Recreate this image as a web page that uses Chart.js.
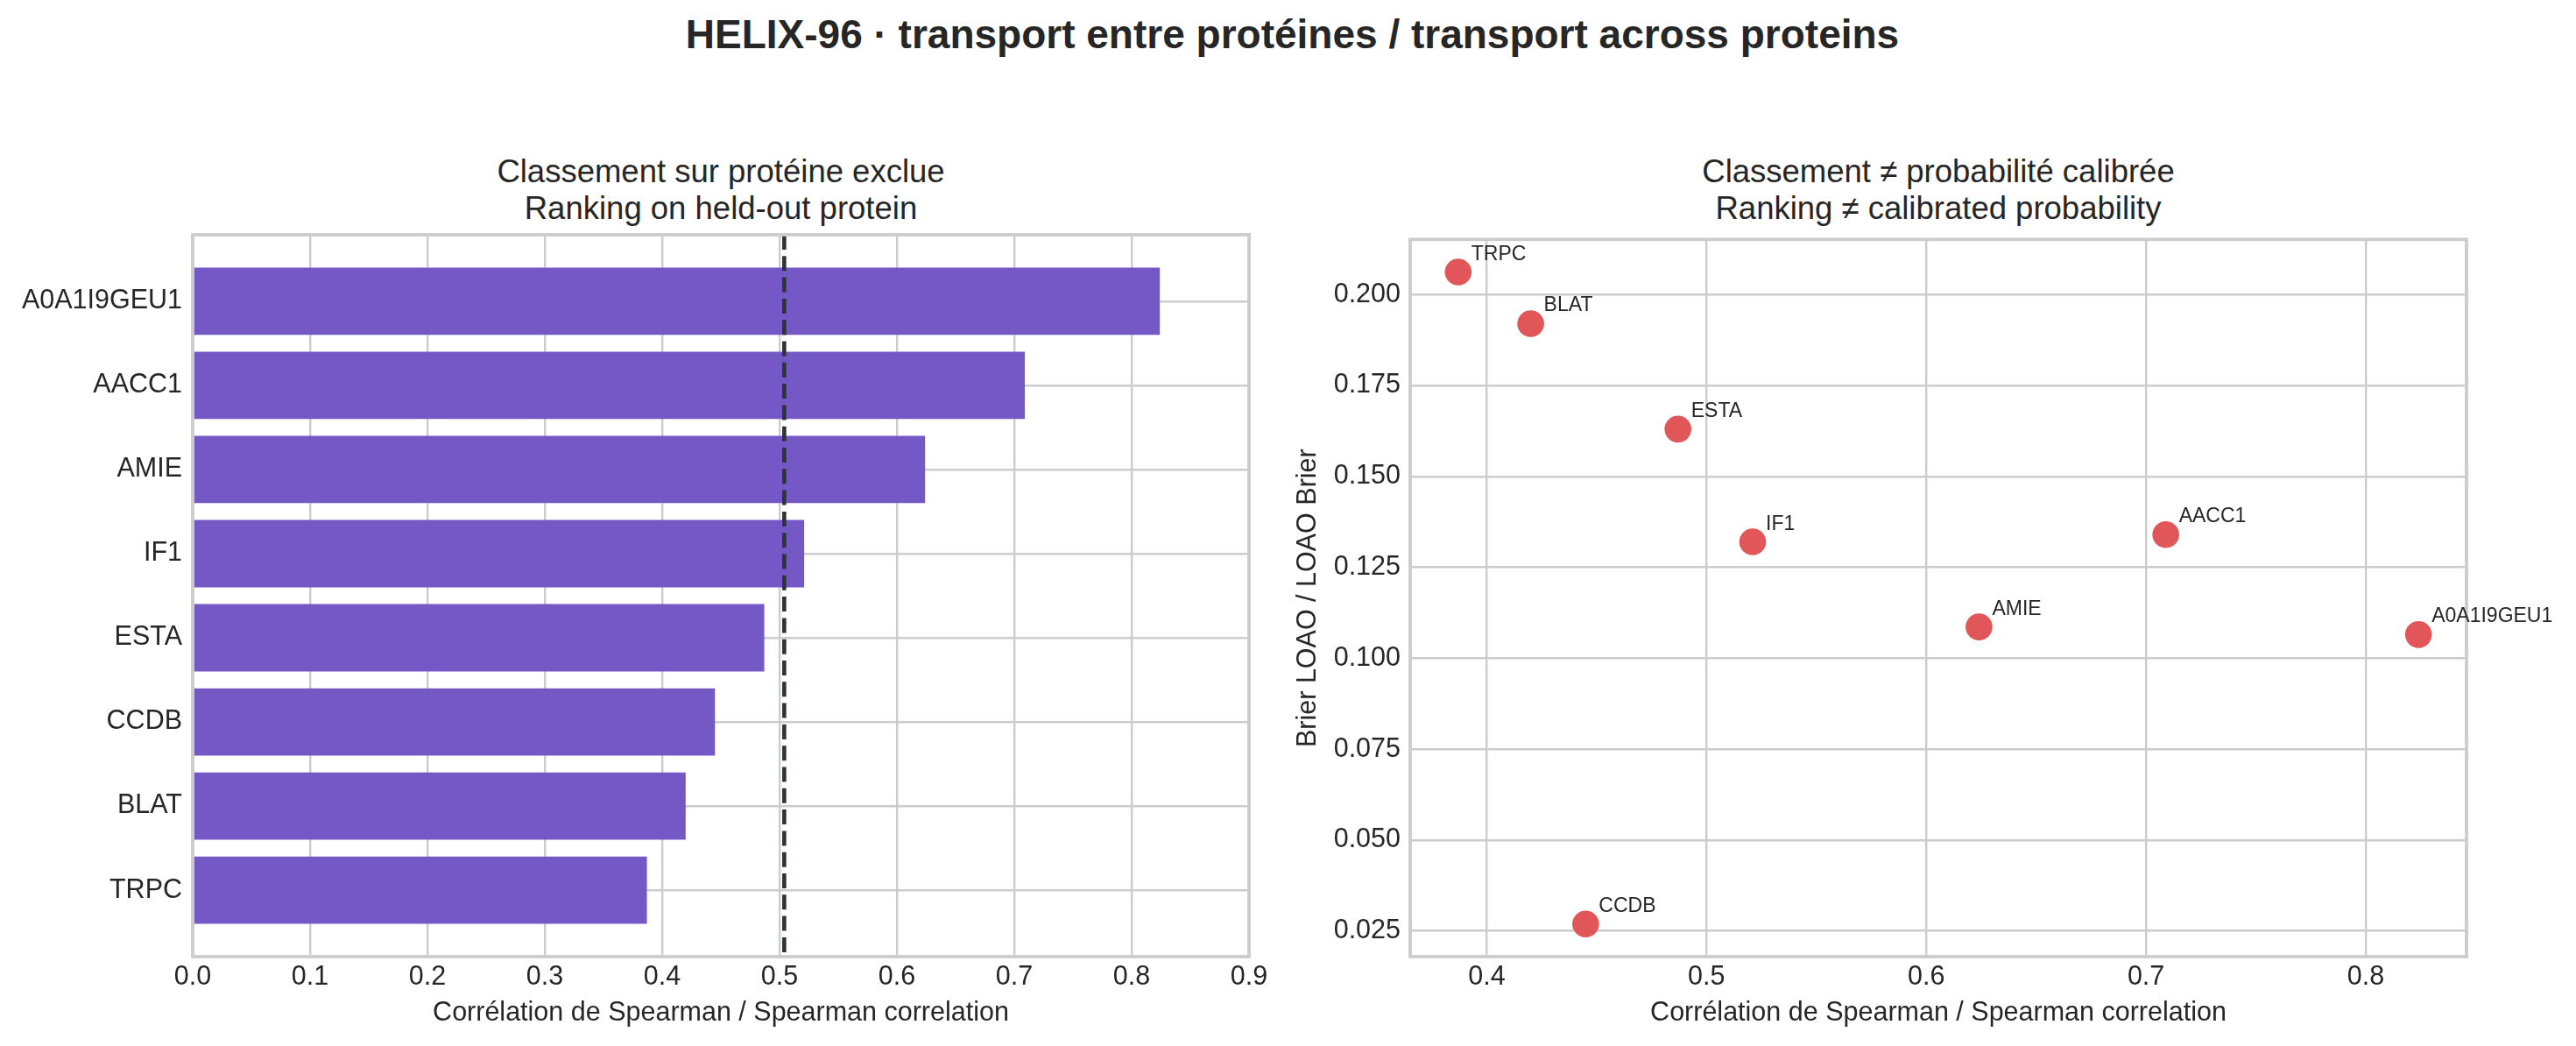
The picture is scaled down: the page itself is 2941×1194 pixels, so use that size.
<!DOCTYPE html>
<html lang="fr">
<head>
<meta charset="UTF-8" />
<title>HELIX-96 · transport entre protéines</title>
<script src="https://cdn.jsdelivr.net/npm/chart.js"></script>
<style>
  html, body { margin: 0; padding: 0; background: #fff; }
  body { width: 2941px; height: 1194px; position: relative; overflow: hidden;
         font-family: 'Liberation Sans', Arial, sans-serif; color: #262626; }
  .suptitle { position: absolute; left: 5px; top: 16px; width: 2941px; text-align: center;
              font-size: 46px; font-weight: bold; line-height: 46px; white-space: nowrap; }
  .subtitle { position: absolute; top: 175px; width: 1206px; text-align: center;
              font-size: 36.5px; line-height: 42px; white-space: nowrap; }
  .panel { position: absolute; top: 258px; height: 936px; }
</style>
</head>
<body>

<div class="suptitle">HELIX-96 · transport entre protéines / transport across proteins</div>
<div class="subtitle" style="left:220px">Classement sur protéine exclue<br>Ranking on held-out protein</div>
<div class="subtitle" style="left:1610px">Classement ≠ probabilité calibrée<br>Ranking ≠ calibrated probability</div>

<div class="panel" style="left:0; width:1450px"><canvas id="rankChart"></canvas></div>
<div class="panel" style="left:1460px; width:1481px"><canvas id="calibChart"></canvas></div>

<script>
  // données
  const proteins = ['A0A1I9GEU1', 'AACC1', 'AMIE', 'IF1', 'ESTA', 'CCDB', 'BLAT', 'TRPC'];
  const spearman = [0.824, 0.709, 0.624, 0.521, 0.487, 0.445, 0.420, 0.387];
  const brier    = [0.1065, 0.134, 0.1086, 0.132, 0.163, 0.0269, 0.192, 0.2062];

  const rankTicks    = [0, 0.1, 0.2, 0.3, 0.4, 0.5, 0.6, 0.7, 0.8, 0.9];
  const spearmanTicks = [0.4, 0.5, 0.6, 0.7, 0.8];
  const brierTicks   = [0.025, 0.05, 0.075, 0.1, 0.125, 0.15, 0.175, 0.2];

  const TEXT = '#262626';
  const GRID = '#cccccc';
  const BAR = '#7458c6';
  const DOT = '#e15759';
  const XLABEL = 'Corrélation de Spearman / Spearman correlation';

  Chart.defaults.font.family = "'Liberation Sans', Arial, sans-serif";
  Chart.defaults.font.size = 30.5;
  Chart.defaults.color = TEXT;

  // médiane pour la ligne pointillée
  const sorted = [...spearman].sort((a, b) => a - b);
  const median = (sorted[sorted.length / 2 - 1] + sorted[sorted.length / 2]) / 2;

  // marges façon matplotlib (5 %)
  function padRange(lo, hi) {
    const m = (hi - lo) * 0.05;
    return [lo - m, hi + m];
  }
  const [yLo, yHi] = padRange(-0.4, proteins.length - 1 + 0.4);
  const [sxLo, sxHi] = padRange(Math.min(...spearman), Math.max(...spearman));
  const [byLo, byHi] = padRange(Math.min(...brier), Math.max(...brier));

  // taille fixe des axes, sans marge auto pour les étiquettes
  function fixBox(w, h) {
    return s => {
      if (w != null) s.width = w;
      if (h != null) s.height = h;
      s.paddingTop = 0; s.paddingBottom = 0;
      s.paddingLeft = 0; s.paddingRight = 0;
    };
  }

  // cadre complet (4 côtés)
  const frame = {
    id: 'frame',
    afterDatasetsDraw(chart) {
      const { ctx, chartArea: a } = chart;
      ctx.save();
      ctx.strokeStyle = GRID;
      ctx.lineWidth = 3.8;
      ctx.strokeRect(a.left, a.top, a.right - a.left, a.bottom - a.top);
      ctx.restore();
    }
  };

  // étiquettes des points
  const pointLabels = {
    id: 'pointLabels',
    afterDatasetsDraw(chart) {
      const { ctx } = chart;
      const meta = chart.getDatasetMeta(0);
      ctx.save();
      ctx.font = "23px 'Liberation Sans', Arial, sans-serif";
      ctx.fillStyle = TEXT;
      ctx.textAlign = 'left';
      ctx.textBaseline = 'alphabetic';
      meta.data.forEach((pt, i) => {
        ctx.fillText(proteins[i], pt.x + 15, pt.y - 14);
      });
      ctx.restore();
    }
  };

  const gridOpts = { color: GRID, lineWidth: 2.4, drawTicks: false, offset: false };

  // Classement sur protéine exclue
  new Chart(document.getElementById('rankChart'), {
    type: 'bar',
    data: {
      datasets: [
        {
          type: 'line',
          label: 'médiane',
          data: [{ x: median, y: yLo }, { x: median, y: yHi }],
          borderColor: '#2d3436',
          borderWidth: 4.6,
          borderDash: [17, 7.3],
          pointRadius: 0,
          order: 0
        },
        {
          label: 'Spearman',
          data: proteins.map((p, i) => ({ x: spearman[i], y: i })),
          backgroundColor: BAR,
          barPercentage: 0.8,
          categoryPercentage: 1,
          order: 1
        }
      ]
    },
    options: {
      indexAxis: 'y',
      responsive: true,
      maintainAspectRatio: false,
      animation: false,
      layout: { padding: { top: 10, right: 24, left: 0, bottom: 0 } },
      plugins: { legend: { display: false }, tooltip: { enabled: false } },
      scales: {
        x: {
          type: 'linear',
          min: 0, max: 0.9,
          grid: gridOpts,
          border: { display: false },
          afterBuildTicks: s => { s.ticks = rankTicks.map(v => ({ value: v })); },
          afterFit: fixBox(null, 102),
          ticks: { padding: 5, callback: v => v.toFixed(1) },
          title: { display: true, text: XLABEL, padding: { top: 0, bottom: 19 } }
        },
        y: {
          type: 'linear',
          min: yLo, max: yHi,
          reverse: true,
          offset: false,
          grid: gridOpts,
          border: { display: false },
          afterBuildTicks: s => { s.ticks = proteins.map((p, i) => ({ value: i })); },
          afterFit: fixBox(220, null),
          ticks: { padding: 12, callback: v => proteins[v] }
        }
      }
    },
    plugins: [frame]
  });

  // Classement ≠ probabilité calibrée
  new Chart(document.getElementById('calibChart'), {
    type: 'scatter',
    data: {
      datasets: [{
        label: 'Brier',
        data: proteins.map((p, i) => ({ x: spearman[i], y: brier[i] })),
        backgroundColor: DOT,
        borderWidth: 0,
        pointRadius: 15.3,
        pointHoverRadius: 15.3
      }]
    },
    options: {
      responsive: true,
      maintainAspectRatio: false,
      animation: false,
      layout: { padding: { top: 10, right: 125, left: 0, bottom: 0 } },
      plugins: { legend: { display: false }, tooltip: { enabled: false } },
      scales: {
        x: {
          type: 'linear',
          min: sxLo, max: sxHi,
          grid: gridOpts,
          border: { display: false },
          afterBuildTicks: s => { s.ticks = spearmanTicks.map(v => ({ value: v })); },
          afterFit: fixBox(null, 102),
          ticks: { padding: 5, callback: v => v.toFixed(1) },
          title: { display: true, text: XLABEL, padding: { top: 0, bottom: 19 } }
        },
        y: {
          type: 'linear',
          min: byLo, max: byHi,
          grid: gridOpts,
          border: { display: false },
          afterBuildTicks: s => { s.ticks = brierTicks.map(v => ({ value: v })); },
          afterFit: fixBox(150, null),
          ticks: { padding: 11, callback: v => v.toFixed(3) },
          title: { display: true, text: 'Brier LOAO / LOAO Brier', padding: { top: 15, bottom: 0 } }
        }
      }
    },
    plugins: [frame, pointLabels]
  });
</script>

</body>
</html>
